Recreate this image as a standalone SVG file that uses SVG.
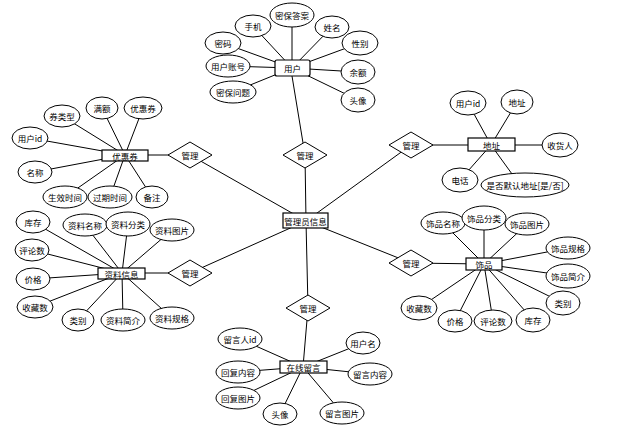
<svg xmlns="http://www.w3.org/2000/svg" width="640" height="428" viewBox="0 0 640 428">
<style>
.e{fill:#fff;stroke:#000;stroke-width:1}
.r{fill:#fff;stroke:#000;stroke-width:1.2}
.d{fill:#fff;stroke:#000;stroke-width:1}
.l{stroke:#000;stroke-width:1;fill:none}
text{font-family:"Noto Sans CJK SC","Noto Sans",sans-serif;font-size:8.5px;text-anchor:middle;dominant-baseline:central;fill:#000}
</style>
<rect width="640" height="428" fill="#fff"/>
<g id="connectors">
<!-- user -->
<line class="l" x1="292" y1="68" x2="253" y2="26"/>
<line class="l" x1="292" y1="68" x2="292" y2="15"/>
<line class="l" x1="292" y1="68" x2="332" y2="27"/>
<line class="l" x1="292" y1="68" x2="223" y2="43"/>
<line class="l" x1="292" y1="68" x2="360" y2="43"/>
<line class="l" x1="292" y1="68" x2="228" y2="66"/>
<line class="l" x1="292" y1="68" x2="358" y2="72"/>
<line class="l" x1="292" y1="68" x2="233" y2="92"/>
<line class="l" x1="292" y1="68" x2="358" y2="100"/>
<line class="l" x1="292" y1="76" x2="305" y2="155"/>
<line class="l" x1="305" y1="155" x2="306" y2="221"/>
<!-- coupon -->
<line class="l" x1="125" y1="155" x2="62" y2="116"/>
<line class="l" x1="125" y1="155" x2="102" y2="108"/>
<line class="l" x1="125" y1="155" x2="143" y2="108"/>
<line class="l" x1="125" y1="155" x2="30" y2="138"/>
<line class="l" x1="125" y1="155" x2="35" y2="172"/>
<line class="l" x1="125" y1="155" x2="65" y2="197"/>
<line class="l" x1="125" y1="155" x2="110" y2="197"/>
<line class="l" x1="125" y1="155" x2="152" y2="197"/>
<line class="l" x1="125" y1="155" x2="190" y2="155"/>
<line class="l" x1="190" y1="155" x2="306" y2="221"/>
<!-- address -->
<line class="l" x1="491" y1="145" x2="468" y2="103"/>
<line class="l" x1="491" y1="145" x2="517" y2="102"/>
<line class="l" x1="491" y1="145" x2="560" y2="145"/>
<line class="l" x1="491" y1="145" x2="460" y2="180"/>
<line class="l" x1="491" y1="145" x2="520" y2="185"/>
<line class="l" x1="491" y1="145" x2="411" y2="145"/>
<line class="l" x1="411" y1="145" x2="306" y2="221"/>
<!-- material -->
<line class="l" x1="122" y1="273" x2="33" y2="222"/>
<line class="l" x1="122" y1="273" x2="85" y2="225"/>
<line class="l" x1="122" y1="273" x2="128" y2="224"/>
<line class="l" x1="122" y1="273" x2="172" y2="230"/>
<line class="l" x1="122" y1="273" x2="32" y2="250"/>
<line class="l" x1="122" y1="273" x2="33" y2="279"/>
<line class="l" x1="122" y1="273" x2="35" y2="307"/>
<line class="l" x1="122" y1="273" x2="78" y2="320"/>
<line class="l" x1="122" y1="273" x2="123" y2="320"/>
<line class="l" x1="122" y1="273" x2="172" y2="318"/>
<line class="l" x1="122" y1="273" x2="190" y2="273"/>
<line class="l" x1="190" y1="273" x2="306" y2="221"/>
<!-- goods -->
<line class="l" x1="484" y1="264" x2="443" y2="223"/>
<line class="l" x1="484" y1="264" x2="484" y2="218"/>
<line class="l" x1="484" y1="264" x2="527" y2="224"/>
<line class="l" x1="484" y1="264" x2="568" y2="248"/>
<line class="l" x1="484" y1="264" x2="568" y2="276"/>
<line class="l" x1="484" y1="264" x2="563" y2="303"/>
<line class="l" x1="484" y1="264" x2="419" y2="308"/>
<line class="l" x1="484" y1="264" x2="455" y2="321"/>
<line class="l" x1="484" y1="264" x2="493" y2="321"/>
<line class="l" x1="484" y1="264" x2="533" y2="320"/>
<line class="l" x1="484" y1="264" x2="411" y2="263"/>
<line class="l" x1="411" y1="263" x2="306" y2="221"/>
<!-- message -->
<line class="l" x1="306" y1="221" x2="308" y2="308"/>
<line class="l" x1="308" y1="308" x2="303" y2="367"/>
<line class="l" x1="303" y1="367" x2="240" y2="339"/>
<line class="l" x1="303" y1="367" x2="363" y2="343"/>
<line class="l" x1="303" y1="367" x2="238" y2="372"/>
<line class="l" x1="303" y1="367" x2="370" y2="374"/>
<line class="l" x1="303" y1="367" x2="238" y2="398"/>
<line class="l" x1="303" y1="367" x2="280" y2="414"/>
<line class="l" x1="303" y1="367" x2="342" y2="413"/>
</g>

<g id="admin"><rect class="r" x="283" y="213" width="45" height="15"/><text x="305.5" y="220.5">管理员信息</text></g>

<g id="user"><rect class="r" x="275" y="60" width="35" height="16" rx="2"/><text x="292.5" y="68">用户</text></g>
<g id="user-attrs">
<ellipse class="e" cx="253" cy="26" rx="18" ry="11"/><text x="253" y="26">手机</text>
<ellipse class="e" cx="292" cy="15" rx="22" ry="12"/><text x="292" y="15">密保答案</text>
<ellipse class="e" cx="332" cy="27" rx="17" ry="11"/><text x="332" y="27">姓名</text>
<ellipse class="e" cx="223" cy="43" rx="18" ry="11"/><text x="223" y="43">密码</text>
<ellipse class="e" cx="360" cy="43" rx="18" ry="12"/><text x="360" y="43">性别</text>
<ellipse class="e" cx="228" cy="66" rx="22" ry="11"/><text x="228" y="66">用户账号</text>
<ellipse class="e" cx="358" cy="72" rx="17" ry="12"/><text x="358" y="72">余额</text>
<ellipse class="e" cx="233" cy="92" rx="23" ry="11"/><text x="233" y="92">密保问题</text>
<ellipse class="e" cx="358" cy="100" rx="17" ry="12"/><text x="358" y="100">头像</text>
</g>

<g id="rel-user"><polygon class="d" points="305,142 327,155 305,168 283,155"/><text x="305" y="155">管理</text></g>
<g id="rel-coupon"><polygon class="d" points="190,142 212,155 190,168 168,155"/><text x="190" y="155">管理</text></g>
<g id="rel-address"><polygon class="d" points="411,132 433,145 411,158 389,145"/><text x="411" y="145">管理</text></g>
<g id="rel-material"><polygon class="d" points="190,260 212,273 190,286 168,273"/><text x="190" y="273">管理</text></g>
<g id="rel-goods"><polygon class="d" points="411,250 433,263 411,276 389,263"/><text x="411" y="263">管理</text></g>
<g id="rel-message"><polygon class="d" points="308,295 330,308 308,321 286,308"/><text x="308" y="308">管理</text></g>

<g id="coupon"><rect class="r" x="102" y="150" width="46" height="11"/><text x="125" y="155.5">优惠券</text></g>
<g id="coupon-attrs">
<ellipse class="e" cx="62" cy="116" rx="18" ry="11"/><text x="62" y="116">券类型</text>
<ellipse class="e" cx="102" cy="108" rx="16" ry="11"/><text x="102" y="108">满额</text>
<ellipse class="e" cx="143" cy="108" rx="19" ry="11"/><text x="143" y="108">优惠券</text>
<ellipse class="e" cx="30" cy="138" rx="18" ry="11"/><text x="30" y="138">用户id</text>
<ellipse class="e" cx="35" cy="172" rx="17" ry="11"/><text x="35" y="172">名称</text>
<ellipse class="e" cx="65" cy="197" rx="22" ry="11"/><text x="65" y="197">生效时间</text>
<ellipse class="e" cx="110" cy="197" rx="22" ry="11"/><text x="110" y="197">过期时间</text>
<ellipse class="e" cx="152" cy="197" rx="16" ry="11"/><text x="152" y="197">备注</text>
</g>

<g id="address"><rect class="r" x="468" y="138" width="47" height="13"/><text x="491.5" y="144.5">地址</text></g>
<g id="address-attrs">
<ellipse class="e" cx="468" cy="103" rx="18" ry="12"/><text x="468" y="103">用户id</text>
<ellipse class="e" cx="517" cy="102" rx="16" ry="12"/><text x="517" y="102">地址</text>
<ellipse class="e" cx="560" cy="145" rx="18" ry="12"/><text x="560" y="145">收货人</text>
<ellipse class="e" cx="460" cy="180" rx="18" ry="12"/><text x="460" y="180">电话</text>
<ellipse class="e" cx="525" cy="185" rx="44" ry="12"/><text x="525" y="185">是否默认地址[是/否]</text>
</g>

<g id="material"><rect class="r" x="98" y="268" width="47" height="11"/><text x="121.5" y="273.5">资料信息</text></g>
<g id="material-attrs">
<ellipse class="e" cx="33" cy="222" rx="17" ry="11"/><text x="33" y="222">库存</text>
<ellipse class="e" cx="85" cy="225" rx="22" ry="11"/><text x="85" y="225">资料名称</text>
<ellipse class="e" cx="128" cy="224" rx="22" ry="12"/><text x="128" y="224">资料分类</text>
<ellipse class="e" cx="172" cy="230" rx="22" ry="11"/><text x="172" y="230">资料图片</text>
<ellipse class="e" cx="32" cy="250" rx="17" ry="11"/><text x="32" y="250">评论数</text>
<ellipse class="e" cx="33" cy="279" rx="17" ry="11"/><text x="33" y="279">价格</text>
<ellipse class="e" cx="35" cy="307" rx="18" ry="11"/><text x="35" y="307">收藏数</text>
<ellipse class="e" cx="78" cy="320" rx="16" ry="11"/><text x="78" y="320">类别</text>
<ellipse class="e" cx="123" cy="320" rx="22" ry="11"/><text x="123" y="320">资料简介</text>
<ellipse class="e" cx="172" cy="318" rx="22" ry="11"/><text x="172" y="318">资料规格</text>
</g>

<g id="goods"><rect class="r" x="466" y="258" width="36" height="12"/><text x="484" y="264">饰品</text></g>
<g id="goods-attrs">
<ellipse class="e" cx="443" cy="223" rx="22" ry="11"/><text x="443" y="223">饰品名称</text>
<ellipse class="e" cx="484" cy="218" rx="22" ry="12"/><text x="484" y="218">饰品分类</text>
<ellipse class="e" cx="527" cy="224" rx="22" ry="11"/><text x="527" y="224">饰品图片</text>
<ellipse class="e" cx="568" cy="248" rx="22" ry="11"/><text x="568" y="248">饰品规格</text>
<ellipse class="e" cx="568" cy="276" rx="22" ry="12"/><text x="568" y="276">饰品简介</text>
<ellipse class="e" cx="563" cy="303" rx="17" ry="12"/><text x="563" y="303">类别</text>
<ellipse class="e" cx="419" cy="308" rx="18" ry="12"/><text x="419" y="308">收藏数</text>
<ellipse class="e" cx="455" cy="321" rx="17" ry="11"/><text x="455" y="321">价格</text>
<ellipse class="e" cx="493" cy="321" rx="19" ry="11"/><text x="493" y="321">评论数</text>
<ellipse class="e" cx="533" cy="320" rx="17" ry="12"/><text x="533" y="320">库存</text>
</g>

<g id="message"><rect class="r" x="280" y="361" width="47" height="12"/><text x="303.5" y="367">在线留言</text></g>
<g id="message-attrs">
<ellipse class="e" cx="240" cy="339" rx="22" ry="11"/><text x="240" y="339">留言人id</text>
<ellipse class="e" cx="363" cy="343" rx="17" ry="11"/><text x="363" y="343">用户名</text>
<ellipse class="e" cx="238" cy="372" rx="22" ry="11"/><text x="238" y="372">回复内容</text>
<ellipse class="e" cx="370" cy="374" rx="22" ry="11"/><text x="370" y="374">留言内容</text>
<ellipse class="e" cx="238" cy="398" rx="22" ry="11"/><text x="238" y="398">回复图片</text>
<ellipse class="e" cx="280" cy="414" rx="17" ry="11"/><text x="280" y="414">头像</text>
<ellipse class="e" cx="342" cy="413" rx="22" ry="11"/><text x="342" y="413">留言图片</text>
</g>
</svg>
